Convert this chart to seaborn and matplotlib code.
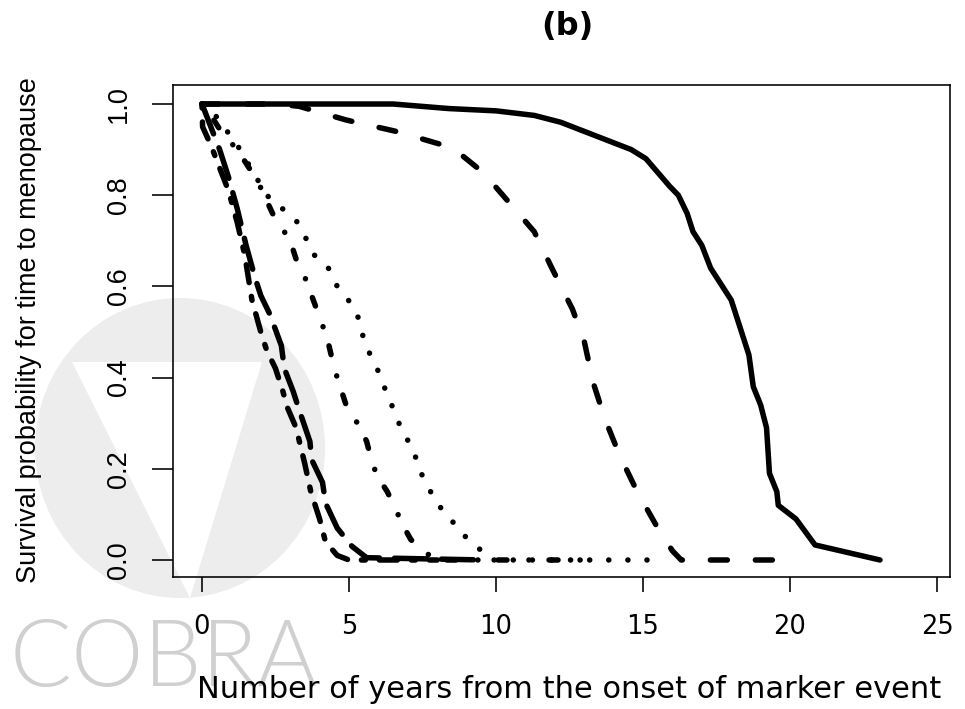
import matplotlib
matplotlib.use("Agg")
import matplotlib.pyplot as plt
from matplotlib import font_manager
from matplotlib.patches import Ellipse, Polygon
import numpy as np
import pandas as pd
import seaborn as sns

# ---------------- data ----------------
t_solid = [0, 6.5, 8.4, 10.0, 11.3, 12.2, 13.0, 13.8, 14.6, 15.1, 15.5, 15.9, 16.2, 16.5,
           16.7, 17.0, 17.3, 17.6, 18.0, 18.3, 18.6, 18.75, 19.0, 19.2, 19.3, 19.55, 19.6,
           20.2, 20.85, 23.06]
p_solid = [1.0, 1.0, 0.99, 0.985, 0.975, 0.96, 0.94, 0.92, 0.90, 0.88, 0.85, 0.82, 0.80, 0.76,
           0.72, 0.69, 0.64, 0.61, 0.57, 0.51, 0.45, 0.38, 0.34, 0.29, 0.19, 0.15, 0.12,
           0.09, 0.033, 0.0]

t_dashed = [0, 2.5, 3.3, 4.9, 6.6, 8.2, 8.6, 9.56, 10.5, 11.3, 11.9, 12.6, 13.0, 13.3, 13.7,
            14.2, 14.8, 15.5, 16.0, 16.3, 20.0]
p_dashed = [1.0, 1.0, 0.995, 0.965, 0.94, 0.91, 0.90, 0.85, 0.78, 0.72, 0.64, 0.55, 0.48, 0.39,
            0.31, 0.23, 0.15, 0.07, 0.02, 0.0, 0.0]

t_dotted = [0, 0.4, 1.2, 2.2, 3.2, 3.5, 3.8, 4.3, 4.6, 5.1, 5.4, 5.5, 5.8, 6.1, 6.3, 6.6, 6.8,
            7.2, 7.35, 7.65, 7.9, 8.4, 8.8, 9.35, 9.8, 15.4]
p_dotted = [1.0, 0.98, 0.91, 0.80, 0.745, 0.71, 0.67, 0.64, 0.60, 0.56, 0.52, 0.48, 0.44, 0.40,
            0.36, 0.32, 0.28, 0.245, 0.20, 0.17, 0.13, 0.095, 0.06, 0.03, 0.0, 0.0]

t_dotdash = [0, 0.4, 0.7, 1.2, 1.5, 1.9, 2.4, 2.8, 3.0, 3.2, 3.5, 3.7, 3.9, 4.1, 4.3, 4.5, 4.8,
             5.0, 5.3, 5.6, 5.8, 6.0, 6.3, 6.6, 6.8, 7.1, 7.5, 8.0, 13.5]
p_dotdash = [1.0, 0.965, 0.935, 0.90, 0.87, 0.83, 0.76, 0.72, 0.70, 0.66, 0.62, 0.585, 0.55,
             0.515, 0.475, 0.42, 0.36, 0.32, 0.30, 0.26, 0.21, 0.18, 0.15, 0.11, 0.08, 0.045,
             0.02, 0.0, 0.0]

t_twodash = [0, 0.02, 0.3, 0.6, 0.9, 1.2, 1.45, 1.7, 2.0, 2.2, 2.5, 2.75, 2.9, 3.2, 3.5, 3.7,
             4.0, 4.2, 4.6, 5.0, 8.0]
p_twodash = [1.0, 0.95, 0.91, 0.86, 0.81, 0.74, 0.67, 0.57, 0.50, 0.46, 0.42, 0.37, 0.335,
             0.29, 0.21, 0.15, 0.09, 0.04, 0.01, 0.0, 0.0]

t_longdash = [0, 0.3, 0.6, 0.9, 1.2, 1.5, 1.8, 2.0, 2.3, 2.7, 2.8, 3.1, 3.3, 3.67, 3.73, 4.1,
              4.2, 4.6, 5.1, 5.6, 9.6]
p_longdash = [1.0, 0.95, 0.90, 0.84, 0.77, 0.69, 0.62, 0.58, 0.54, 0.47, 0.42, 0.37, 0.33,
              0.26, 0.22, 0.17, 0.125, 0.07, 0.03, 0.005, 0.0]

x_ticks = [0, 5, 10, 15, 20, 25]
y_ticks = [0.0, 0.2, 0.4, 0.6, 0.8, 1.0]
title_text = "(b)"
x_label = "Number of years from the onset of marker event"
y_label = "Survival probability for time to menopause"
watermark_text = "COBRA"

curves = {
    "solid": (t_solid, p_solid),
    "dashed": (t_dashed, p_dashed),
    "dotted": (t_dotted, p_dotted),
    "dotdash": (t_dotdash, p_dotdash),
    "twodash": (t_twodash, p_twodash),
    "longdash": (t_longdash, p_longdash),
}
frames = []
for name, (tt, pp) in curves.items():
    frames.append(pd.DataFrame({"t": tt, "p": pp, "curve": name}))
df = pd.concat(frames, ignore_index=True)

# ---------------- style ----------------
sns.set_theme(style="white")
plt.rcParams["lines.scale_dashes"] = False
plt.rcParams["font.family"] = ["DejaVu Sans"]


def have_font(name):
    try:
        font_manager.findfont(font_manager.FontProperties(family=name), fallback_to_default=False)
        return True
    except Exception:
        return False


narrow = "Liberation Sans" if have_font("Liberation Sans") else "DejaVu Sans"
wm_font = "Lato" if have_font("Lato") else "DejaVu Sans"

W, H = 965, 709
fig = plt.figure(figsize=(W / 100, H / 100), dpi=100)
fig.patch.set_facecolor("white")

# faint background watermark (figure level, behind the axes)
fig.add_artist(Ellipse((180 / W, 1 - 448 / H), 290 / W, 300 / H,
                       transform=fig.transFigure, facecolor="#ededed", edgecolor="none",
                       zorder=-3))
fig.add_artist(Polygon([(72 / W, 1 - 362 / H), (262 / W, 1 - 362 / H), (190 / W, 1 - 598 / H)],
                       closed=True, transform=fig.transFigure, facecolor="white",
                       edgecolor="none", zorder=-2))
fig.text(10 / W, 1 - 686 / H, watermark_text, ha="left", va="baseline", fontsize=66,
         family=wm_font, fontweight=300, color="#d0d0d0", zorder=-1)

L, R, T, B = 173, 950, 85, 577
ax = fig.add_axes([L / W, 1 - B / H, (R - L) / W, (B - T) / H])
ax.set_facecolor("none")

px = 0.72  # points per pixel
lw = 5.5 * px
dash_map = {
    "solid": "",
    "dashed": (17 * px, 28 * px),
    "dotted": (0.1 * px, 19 * px),
    "dotdash": (0.1 * px, 20 * px, 9 * px, 22 * px),
    "twodash": (4 * px, 14 * px, 18 * px, 14 * px),
    "longdash": (32 * px, 15 * px),
}
sns.lineplot(data=df, x="t", y="p", style="curve", style_order=list(curves.keys()),
             dashes=dash_map, color="black", linewidth=lw, estimator=None, sort=False,
             legend=False, ax=ax, dash_capstyle="round", solid_capstyle="round",
             solid_joinstyle="round", dash_joinstyle="round")

ax.set_xlim(-0.986, 25.44)
ax.set_ylim(-0.0373, 1.0417)
ax.set_xticks(x_ticks)
ax.set_xticklabels([str(v) for v in x_ticks])
ax.set_yticks(y_ticks)
ax.set_yticklabels([f"{v:.1f}" for v in y_ticks])

for s in ax.spines.values():
    s.set_visible(True)
    s.set_color("black")
    s.set_linewidth(1.6 * px)

ax.tick_params(axis="x", direction="out", length=15 * px, width=1.6 * px, color="black",
               pad=22 * px, labelsize=18.5, labelcolor="black", bottom=True)
ax.tick_params(axis="y", direction="out", length=21 * px, width=1.6 * px, color="black",
               pad=20 * px, labelsize=19.5, labelcolor="black", left=True, labelrotation=90)
for lab in ax.get_yticklabels():
    lab.set_family([narrow, "DejaVu Sans"])
    lab.set_verticalalignment("center")
for lab in ax.get_xticklabels():
    lab.set_family(["DejaVu Sans"])

ax.set_xlabel(x_label, fontsize=22, color="black", family=["DejaVu Sans"])
ax.xaxis.set_label_coords((569 - L) / (R - L), (B - 675) / (B - T))
ax.xaxis.label.set_verticalalignment("top")

ax.set_ylabel(y_label, fontsize=19.5, color="black", family=[narrow, "DejaVu Sans"])
ax.yaxis.set_label_coords((42 - L) / (R - L), (B - 330) / (B - T))

fig.text(567 / W, 1 - 27 / H, title_text, ha="center", va="center", fontsize=23,
         fontweight="bold", color="black", family=["DejaVu Sans"])

fig.savefig("out.png", dpi=100, facecolor="white")
